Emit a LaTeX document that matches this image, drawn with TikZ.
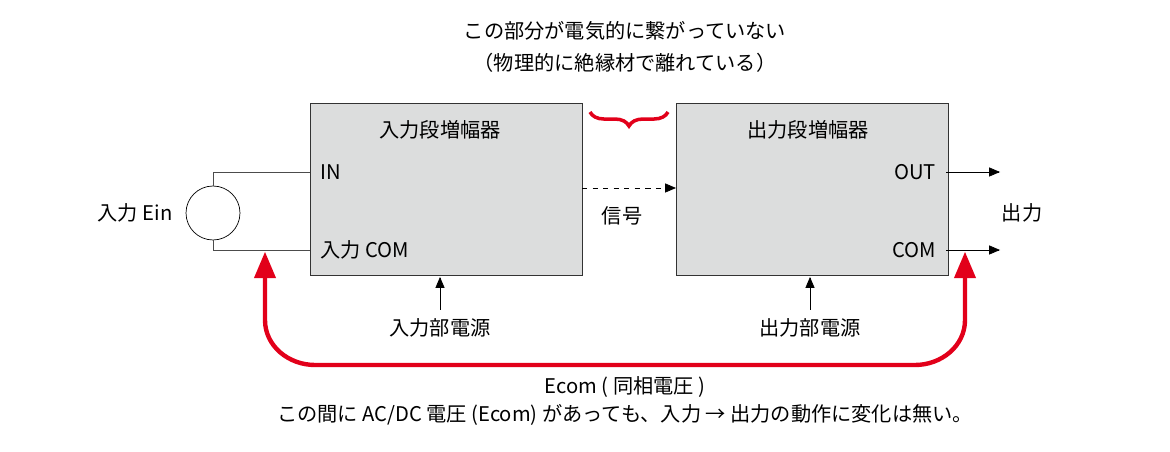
\documentclass[tikz,border=0pt]{standalone}
\usepackage{fontspec}
\setmainfont{Noto Sans CJK JP}
\usetikzlibrary{arrows,shapes,positioning,decorations.pathreplacing}
\definecolor{boxgray}{RGB}{220,221,221}
\definecolor{sigred}{RGB}{226,0,26}
\begin{document}
\begin{tikzpicture}[x=0.02cm,y=-0.02cm, >=triangle 45, font=\fontsize{11.5}{14}\selectfont,
    amp/.style={draw=black!80,fill=boxgray,minimum width=5.44cm,minimum height=3.44cm,anchor=north west},
    lbl/.style={inner sep=1pt}]
        \useasboundingbox (0,0) rectangle (1170,452);
        \node[amp] (ampin)  at (310,103) {};
        \node[amp] (ampout) at (676,103) {};
        \node[lbl] (tin)  at (440,130) {入力段増幅器};
        \node[lbl] (tout) at (808,130) {出力段増幅器};
        \node[lbl,anchor=west] (pin)  at (318,172) {IN};
        \node[lbl,anchor=west] (pcom) at (318,250) {入力 COM};
        \node[lbl,anchor=east] (pout) at (938,172) {OUT};
        \node[lbl,anchor=east] (pocom) at (938,250) {COM};
        \node[draw,circle,minimum size=1.08cm] (src) at (213,213) {};
        \node[lbl] (ein) at (135,213) {入力 Ein};
        % wiring
        \coordinate (ina)  at (310,172);
        \coordinate (inb)  at (310,250);
        \draw[black!70] (src.north) |- (ina);
        \draw[black!70] (src.south) |- (inb);
        \coordinate (sa) at (582,188);
        \coordinate (sb) at (676,188);
        \draw[dashed,->] (sa) -- (sb);
        \node[lbl] (sig) at (622,216) {信号};
        \coordinate (oa) at (946,172);
        \coordinate (ob) at (1000,172);
        \coordinate (ca) at (946,250);
        \coordinate (cb) at (1000,250);
        \draw[->] (oa) -- (ob);
        \draw[->] (ca) -- (cb);
        \node[lbl] (outl) at (1022,213) {出力};
        % power
        \node[lbl] (pwin)  at (440,328) {入力部電源};
        \node[lbl] (pwout) at (810,328) {出力部電源};
        \coordinate (pia) at (440,310);
        \coordinate (pib) at (440,277);
        \coordinate (poa) at (810,310);
        \coordinate (pob) at (810,277);
        \draw[->] (pia) -- (pib);
        \draw[->] (poa) -- (pob);
        % common-mode path
        \coordinate (ra) at (265,252);
        \coordinate (rb) at (965,252);
        \draw[sigred,line width=2.5pt,<->] (ra) -- (265,320) to[out=-90,in=180] (315,365) -- (915,365) to[out=0,in=-90] (965,320) -- (rb);
        \node[lbl] (ecom) at (625,387) {Ecom ( 同相電圧 )};
        \node[lbl] (note) at (625,415) {この間に AC/DC 電圧 (Ecom) があっても、入力 → 出力の動作に変化は無い。};
        % gap
        \draw[sigred,line width=2pt,decorate,decoration={brace,amplitude=8pt}] (668,112) -- (590,112);
        \node[lbl] (gap1) at (625,31) {この部分が電気的に繋がっていない};
        \node[lbl] (gap2) at (625,63) {（物理的に絶縁材で離れている）};
\end{tikzpicture}
\end{document}
